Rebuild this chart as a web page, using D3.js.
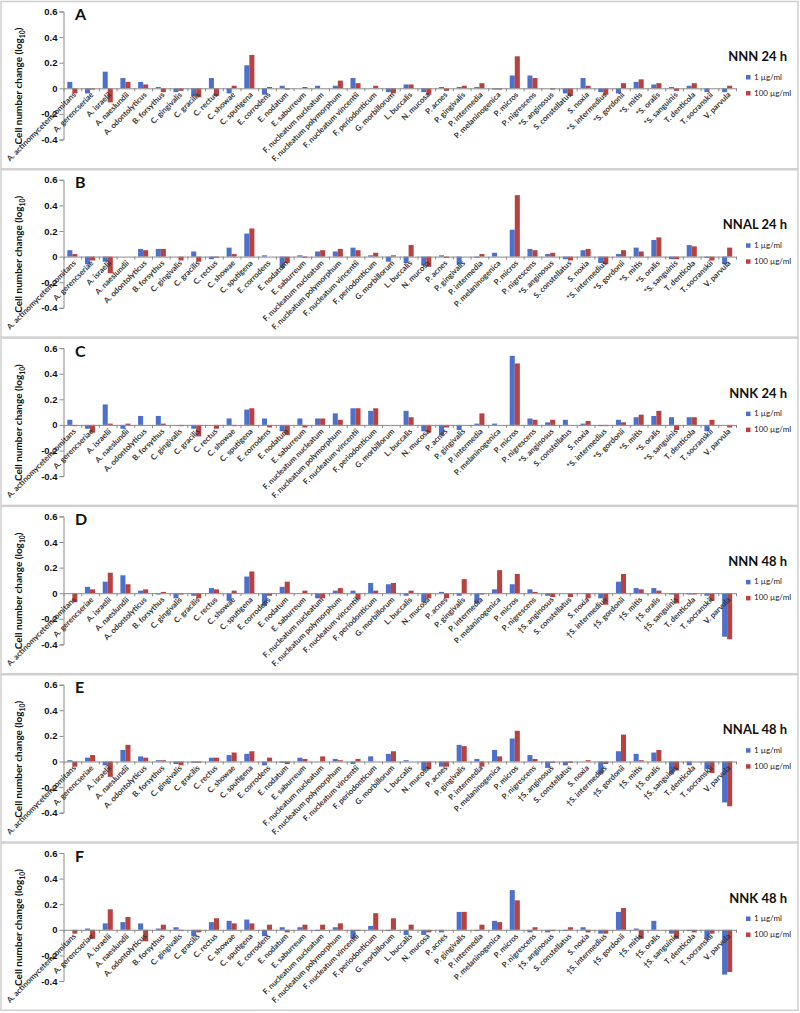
<!DOCTYPE html>
<html><head><meta charset="utf-8">
<script src="https://cdn.jsdelivr.net/npm/d3@7"></script>
<style>
html,body{margin:0;padding:0;background:#fff;}
svg{display:block;font-family:Lato,"Liberation Sans",sans-serif;}
</style></head>
<body>
<svg id="chart" width="800" height="1013"></svg>
<script>
const categories24 = ["A. actinomycetemcomitans","A. gerencseriae","A. israelii","A. naeslundii","A. odontolyticus","B. forsythus","C. gingivalis","C. gracilis","C. rectus","C. showae","C. sputigena","E. corrodens","E. nodatum","E. saburreum","F. nucleatum nucleatum","F. nucleatum polymorphum","F. nucleatum vincentii","F. periodonticum","G. morbillorum","L. buccalis","N. mucosa","P. acnes","P. gingivalis","P. intermedia","P. melaninogenica","P. micros","P. nigrescens","*S. anginosus","S. constellatus","S. noxia","*S. intermedius","*S. gordonii","*S. mitis","*S. oralis","*S. sanguinis","T. denticola","T. socranskii","V. parvula"];
const categories48 = ["A. actinomycetemcomitans","A. gerencseriae","A. israelii","A. naeslundii","A. odontolyticus","B. forsythus","C. gingivalis","C. gracilis","C. rectus","C. showae","C. sputigena","E. corrodens","E. nodatum","E. saburreum","F. nucleatum nucleatum","F. nucleatum polymorphum","F. nucleatum vincentii","F. periodonticum","G. morbillorum","L. buccalis","N. mucosa","P. acnes","P. gingivalis","P. intermedia","P. melaninogenica","P. micros","P. nigrescens","†S. anginosus","S. constellatus","S. noxia","†S. intermedius","†S. gordonii","†S. mitis","†S. oralis","†S. sanguinis","T. denticola","T. socranskii","V. parvula"];
const seriesNames = ["1 µg/ml","100 µg/ml"];
const seriesColors = ["#4D70CA","#B8423F"];
const panelLetters = ["A","B","C","D","E","F"];
const panelTitles = ["NNN 24 h","NNAL 24 h","NNK 24 h","NNN 48 h","NNAL 48 h","NNK 48 h"];
const yTicks = [-0.4,-0.2,0,0.2,0.4,0.6];

const nnn24_1   = [0.05,-0.04,0.13,0.08,0.05,0.01,-0.03,-0.06,0.08,-0.04,0.18,-0.05,0.02,0,0.02,0.02,0.08,0,-0.03,0.03,-0.03,0.01,0.01,0.01,-0.01,0.10,0.10,0,-0.04,0.08,-0.03,-0.04,0.05,0.03,0.01,0.02,-0.03,-0.03];
const nnn24_100 = [-0.04,-0.01,-0.11,0.05,0.03,-0.03,-0.02,-0.07,-0.06,0.02,0.26,0.01,-0.01,0.01,0,0.06,0.04,0.02,-0.04,0.03,-0.05,-0.02,0.02,0.04,-0.01,0.25,0.08,-0.01,-0.06,0.02,-0.05,0.04,0.07,0.04,-0.02,0.04,0,0.02];
const nnal24_1   = [0.05,-0.06,-0.04,0,0.06,0.06,0,0.04,-0.02,0.07,0.18,0.01,-0.09,0.01,0.04,0.04,0.07,0.01,-0.04,-0.05,-0.07,0.01,-0.06,-0.01,0.03,0.21,0.06,0.02,-0.02,0.05,-0.05,0.02,0.07,0.13,-0.02,0.09,-0.01,-0.06];
const nnal24_100 = [0.02,-0.03,-0.13,0,0.05,0.06,-0.03,-0.04,-0.01,0.02,0.22,0,-0.05,-0.01,0.05,0.06,0.05,0.03,0.01,0.09,-0.08,-0.01,0,0.02,0,0.48,0.05,0.03,-0.03,0.06,-0.06,0.05,0.04,0.15,-0.02,0.08,-0.03,0.07];
const nnk24_1   = [0.04,-0.03,0.16,-0.03,0.07,0.07,0,-0.03,0,0.05,0.12,0.05,-0.05,0.05,0.05,0.09,0.13,0.11,0,0.11,-0.05,-0.08,-0.04,0.01,0.01,0.54,0.05,0.02,0.04,0.01,-0.01,0.04,0.06,0.07,0.06,0.06,-0.05,0];
const nnk24_100 = [-0.01,-0.06,0.01,0.01,0,0.01,-0.01,-0.09,-0.03,-0.01,0.13,-0.02,-0.08,-0.02,0.05,0.04,0.13,0.13,0,0.06,-0.06,-0.02,0,0.09,0,0.48,0.04,0.04,0,0.03,-0.01,0.02,0.08,0.11,-0.04,0.06,0.04,-0.02];
const nnn48_1   = [0,0.05,0.09,0.14,0.02,-0.01,-0.04,-0.02,0.04,-0.06,0.13,-0.10,0.05,0,-0.04,0.02,0.02,0.08,0.07,-0.02,-0.07,0.01,-0.02,-0.08,0.03,0.07,0.03,-0.02,0,0,-0.04,0.09,0.04,0.04,-0.01,-0.01,-0.02,-0.34];
const nnn48_100 = [-0.07,0.03,0.16,0.07,0.03,0.01,-0.01,-0.04,0.03,0.02,0.17,-0.02,0.09,0.02,-0.04,0.04,-0.05,0.02,0.08,0.02,-0.04,-0.04,0.11,-0.01,0.18,0.15,0.01,-0.03,-0.03,-0.04,-0.09,0.15,0.03,0.02,-0.08,-0.01,-0.06,-0.36];
const nnal48_1   = [0.01,0.03,-0.03,0.09,0.04,0.01,-0.02,-0.01,0.03,0.05,0.06,-0.03,-0.01,0.03,0,0.02,-0.02,0.04,0.06,0.01,-0.07,-0.04,0.13,0.02,0.09,0.18,0.05,-0.05,-0.03,0,-0.10,0.08,0.06,0.07,-0.10,-0.03,-0.06,-0.32];
const nnal48_100 = [-0.04,0.05,-0.12,0.13,0.03,0.01,-0.03,-0.01,0.03,0.07,0.08,0.03,-0.02,0.02,0.04,0.01,0.02,0,0.08,0,-0.06,-0.04,0.12,-0.04,0.04,0.24,0.02,-0.01,-0.01,0.01,-0.02,0.21,0.01,0.09,-0.07,0,-0.09,-0.35];
const nnk48_1   = [0,0.01,0.05,0.06,0.05,0.01,0.02,-0.05,0.06,0.07,0.08,-0.05,0.02,0.02,-0.01,0.02,-0.07,0.03,-0.01,-0.04,-0.04,-0.02,0.14,-0.01,0.07,0.31,-0.02,-0.02,-0.01,0.02,-0.03,0.14,0.01,0.07,-0.03,-0.01,-0.07,-0.35];
const nnk48_100 = [-0.03,-0.07,0.16,0.10,-0.09,0.04,-0.01,-0.02,0.09,0.05,0.05,0.04,-0.02,0.04,0.04,0.05,-0.01,0.13,0.09,0.04,-0.02,0,0.14,0.04,0.06,0.23,0.02,-0.01,0.02,-0.02,-0.03,0.17,-0.07,0,-0.07,-0.02,-0.03,-0.33];

const panels = [
  {letter: panelLetters[0], title: panelTitles[0], cats: categories24, series: [nnn24_1, nnn24_100]},
  {letter: panelLetters[1], title: panelTitles[1], cats: categories24, series: [nnal24_1, nnal24_100]},
  {letter: panelLetters[2], title: panelTitles[2], cats: categories24, series: [nnk24_1, nnk24_100]},
  {letter: panelLetters[3], title: panelTitles[3], cats: categories48, series: [nnn48_1, nnn48_100]},
  {letter: panelLetters[4], title: panelTitles[4], cats: categories48, series: [nnal48_1, nnal48_100]},
  {letter: panelLetters[5], title: panelTitles[5], cats: categories48, series: [nnk48_1, nnk48_100]}
];

const svg = d3.select("#chart");
const panelH = 168.3;
const xLeft = 63.5, xRight = 736;
const y = d3.scaleLinear().domain([-0.4, 0.6]).range([139.5, 11.5]);
const fmt = d => d === 0 ? "0" : d.toFixed(1);

panels.forEach((p, pi) => {
  const g = svg.append("g").attr("transform", `translate(0,${pi * panelH})`);
  g.append("rect").attr("x", 1).attr("y", 1.5).attr("width", 797).attr("height", panelH - 1)
    .attr("fill", "none").attr("stroke", "#cfcfcf").attr("stroke-width", 1.5);

  const x = d3.scaleBand().domain(p.cats).range([xLeft, xRight]).paddingInner(0.43).paddingOuter(0.215);
  const xs = d3.scaleBand().domain(seriesNames).range([0, x.bandwidth()]);
  const xb = d3.scaleLinear().domain([0, p.cats.length]).range([xLeft, xRight]);

  // bars
  p.series.forEach((vals, si) => {
    g.append("g").selectAll("rect").data(vals).join("rect")
      .attr("x", (d, i) => x(p.cats[i]) + xs(seriesNames[si]))
      .attr("width", xs.bandwidth())
      .attr("y", d => y(Math.max(0, d)))
      .attr("height", d => Math.abs(y(d) - y(0)))
      .attr("fill", seriesColors[si]);
  });

  // y axis
  const ya = g.append("g").attr("transform", `translate(${xLeft},0)`)
    .call(d3.axisLeft(y).tickValues(yTicks).tickFormat(fmt).tickSize(4));
  ya.select(".domain").attr("stroke", "#8a8a8a");
  ya.selectAll(".tick line").attr("stroke", "#8a8a8a");
  ya.selectAll(".tick text").attr("font-size", 9.5).attr("font-weight", "bold").attr("fill", "#111").attr("x", -6);

  // x axis at zero (ticks between categories)
  const xa = g.append("g").attr("transform", `translate(0,${y(0)})`)
    .call(d3.axisBottom(xb).tickValues(d3.range(0, p.cats.length + 1)).tickFormat("").tickSize(3).tickSizeOuter(0));
  xa.select(".domain").attr("stroke", "#8a8a8a");
  xa.selectAll(".tick line").attr("stroke", "#8a8a8a");

  // category labels
  g.append("g").selectAll("text").data(p.cats).join("text")
    .attr("transform", d => `translate(${x(d) + x.bandwidth() / 2 + 4},${y(0) + 7}) rotate(-45)`)
    .attr("text-anchor", "end")
    .attr("font-size", 7.8)
    .attr("font-weight", "bold")
    .attr("fill", "#333")
    .text(d => d);

  // y title
  const yt = g.append("text")
    .attr("transform", `translate(22,${86}) rotate(-90)`)
    .attr("text-anchor", "middle")
    .attr("font-size", 10).attr("font-weight", "bold").attr("fill", "#111");
  yt.append("tspan").text("Cell number change (log");
  yt.append("tspan").attr("font-size", 6.8).attr("dy", 3).text("10");
  yt.append("tspan").attr("dy", -3).text(")");

  // panel letter
  g.append("text").attr("x", 75).attr("y", 20).attr("font-size", 16).attr("font-weight", "bold")
    .attr("fill", "#111").text(p.letter);

  // legend
  g.append("text").attr("x", 787).attr("y", 61).attr("text-anchor", "end")
    .attr("font-size", 13).attr("font-weight", "bold").attr("fill", "#111").text(p.title);
  seriesNames.forEach((s, si) => {
    const ly = 79 + si * 16;
    g.append("rect").attr("x", 746).attr("y", ly - 4).attr("width", 4.5).attr("height", 4.5).attr("fill", seriesColors[si]);
    g.append("text").attr("x", 754).attr("y", ly + 0.5).attr("font-size", 8).attr("fill", "#222").text(s);
  });
});
</script>
</body></html>
